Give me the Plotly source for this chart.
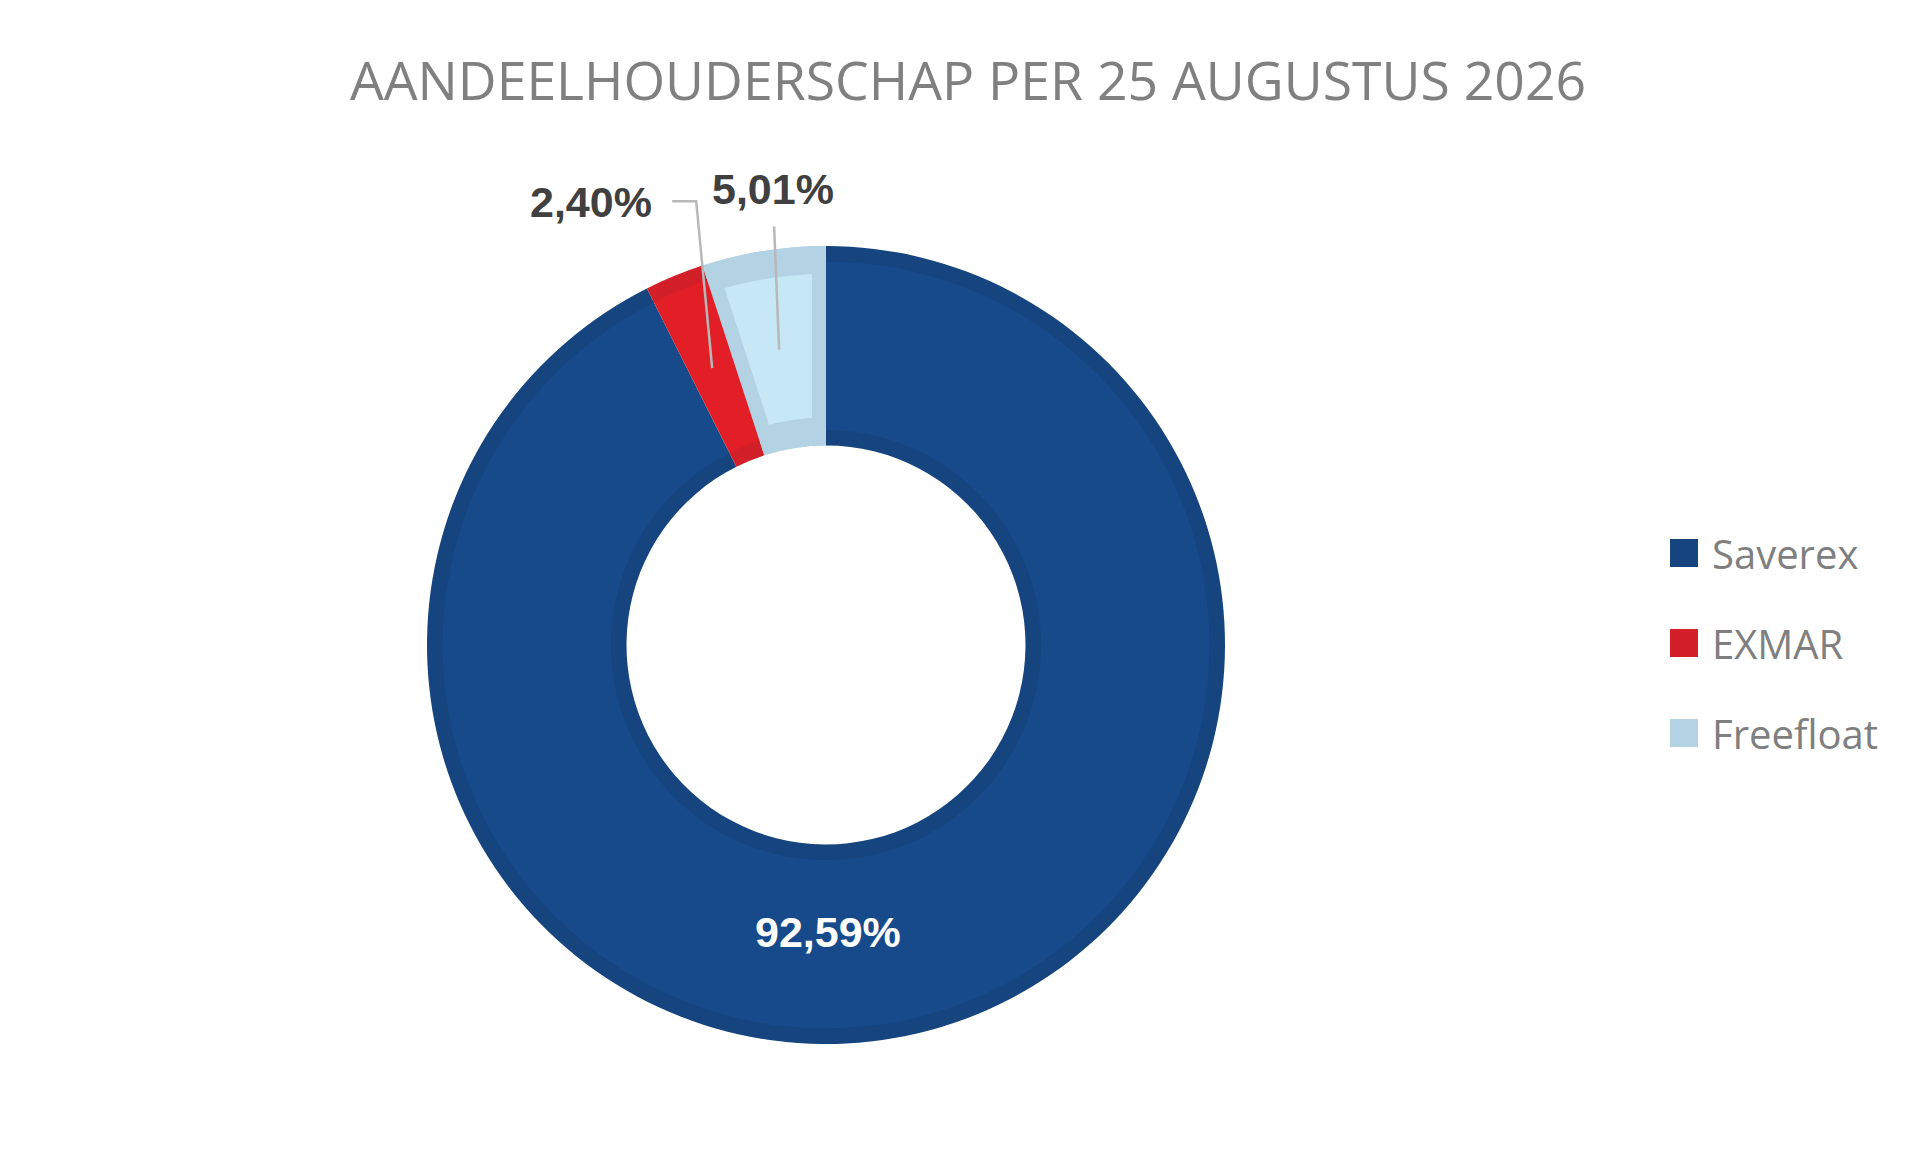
import math
import plotly.graph_objects as go

# shareholder data
labels = ["Saverex", "EXMAR", "Freefloat"]
shares = [92.59, 2.40, 5.01]
edge_colors = ["#15447f", "#d31f27", "#b3d3e4"]   # darker rim of each slice
fill_colors = ["#174a8a", "#e21f27", "#c6e7f6"]   # lighter face of each slice
label_colors = ["white", "#404040", "#404040"]
# label centre offset (px, screen y down) from the middle of its slice
label_offsets = [(-67, -4), (-121, -166), (-6, -160)]
# leader line points (offsets from the slice middle), None = no leader
leaders = [None, [(-40, -167), (-16, -167), (0, 0)], [(-5, -123), (0, 0)]]

W, H = 1920, 1154
CX, CY, R = 818, 637, 399      # donut centre / outer radius in px
HOLE = 0.5
RIM = 14                       # px of rim around the face
OVERLAP = 1.5                  # rim rings overlap the face a bit, no seams
r_in = R * HOLE

def dom(r):
    return dict(x=[(CX - r) / W, (CX + r) / W],
                y=[(H - CY - r) / H, (H - CY + r) / H])

def pct(v):
    return f"{v / sum(shares) * 100:.2f}".replace(".", ",") + "%"

fig = go.Figure()

# face layer: start with freefloat so its inset outline gets trimmed by the neighbours
order = [2, 0, 1]
R2 = R - RIM
fig.add_trace(go.Pie(
    labels=[labels[i] for i in order], values=[shares[i] for i in order],
    sort=False, direction="clockwise",
    rotation=-360 * shares[2] / sum(shares),
    hole=(r_in + RIM) / R2, domain=dom(R2),
    marker=dict(colors=[fill_colors[i] for i in order],
                line=dict(color=[edge_colors[i] for i in order], width=[2 * RIM, 0, 0])),
    textinfo="none", hoverinfo="label+percent",
    showlegend=False,
))

# outer and inner rim rings on top
for outer, inner in [(R, R2 - OVERLAP), (r_in + RIM + OVERLAP, r_in)]:
    fig.add_trace(go.Pie(
        labels=labels, values=shares, sort=False, direction="clockwise", rotation=0,
        hole=inner / outer, domain=dom(outer),
        marker=dict(colors=edge_colors, line=dict(width=0)),
        textinfo="none", hoverinfo="skip",
        showlegend=False,
    ))

# percentage labels, with leader lines to the middle of the slice
rm = R * (1 + HOLE) / 2
cum = 0
for v, col, off, lead in zip(shares, label_colors, label_offsets, leaders):
    mid = math.radians((cum + v / 2) / sum(shares) * 360)
    cum += v
    px = CX + rm * math.sin(mid)
    py = CY - rm * math.cos(mid)
    fig.add_annotation(xref="paper", yref="paper",
                       x=(px + off[0]) / W, y=(H - py - off[1]) / H,
                       xanchor="center", yanchor="middle",
                       showarrow=False, text=f"<b>{pct(v)}</b>",
                       font=dict(family="Liberation Sans", size=43, color=col))
    if lead:
        path = " L ".join(f"{(px + dx) / W},{(H - py - dy) / H}" for dx, dy in lead)
        fig.add_shape(type="path", xref="paper", yref="paper", path="M " + path,
                      line=dict(color="#b8b8b8", width=2.5))

# legend
for i, (lab, col) in enumerate(zip(labels, edge_colors)):
    yc = 545 + i * 90
    fig.add_shape(type="rect", xref="paper", yref="paper",
                  x0=1662 / W, x1=1690 / W,
                  y0=(H - yc - 14) / H, y1=(H - yc + 14) / H,
                  fillcolor=col, line=dict(width=0))
    fig.add_annotation(xref="paper", yref="paper", x=1702 / W, y=(H - yc) / H,
                       xanchor="left", yanchor="middle", showarrow=False,
                       text=lab, font=dict(family="Open Sans", size=40, color="#7f7f7f"))

fig.update_layout(
    width=W, height=H,
    margin=dict(l=0, r=0, t=0, b=0),
    paper_bgcolor="white", plot_bgcolor="white",
    showlegend=False,
    title=dict(text="AANDEELHOUDERSCHAP PER 25 AUGUSTUS 2026",
               x=0.5, xanchor="center", y=1 - 73 / H, yanchor="middle",
               font=dict(family="Open Sans", size=53.5, color="#808080")),
)

fig.write_html("out.html")
